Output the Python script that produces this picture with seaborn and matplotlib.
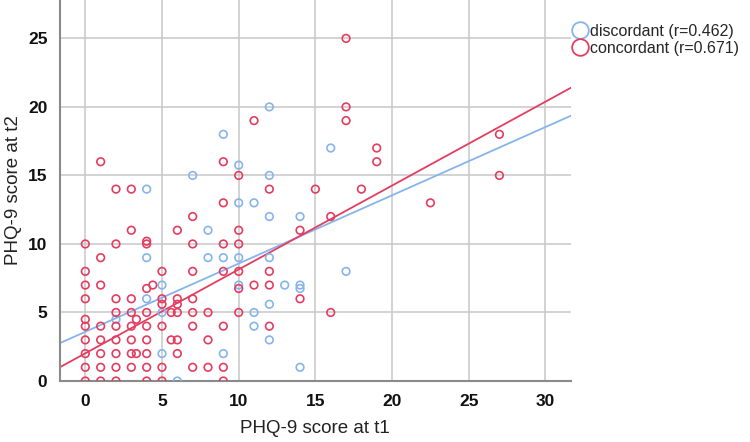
import numpy as np
import pandas as pd
import matplotlib
matplotlib.use("Agg")
import matplotlib.pyplot as plt
from matplotlib.lines import Line2D
import seaborn as sns

# discordant group (blue)
disc_t1 = [14, 5, 9, 6, 12, 2, 11, 5, 11, 4, 12, 5, 10, 13, 14, 14, 17, 4, 8, 9,
           10, 12, 8, 10, 11, 12, 14, 4, 7, 12, 10, 16, 9, 12]
disc_t2 = [1, 2, 2, 0, 3, 4.5, 4, 5, 5, 6, 5.6, 7, 7, 7, 7, 6.75, 8, 9, 9, 9,
           9, 9, 11, 13, 13, 12, 12, 14, 15, 15, 15.75, 17, 18, 20]

# concordant group (red)
conc_t1 = [0, 1, 2, 4, 5, 9,
           0, 1, 2, 3, 4, 5, 7, 8, 9,
           0, 1, 2, 3, 3.33, 4, 6,
           0, 1, 2, 3, 4, 5.6, 6, 8,
           0, 1, 2, 3, 4, 5, 7, 9, 12,
           0, 3.33,
           2, 3, 4, 5.6, 6, 7, 8, 10, 16,
           5, 6,
           0, 2, 3, 5, 6, 7, 14,
           4, 10,
           0, 1, 4.4, 11, 12,
           0, 5, 7, 9, 10, 12,
           1,
           0, 2, 4, 4, 7, 9, 10,
           3, 6, 10, 14,
           7, 16,
           9, 22.5,
           2, 3, 12, 15, 18,
           10, 27,
           1, 9, 19,
           19, 27, 11, 17, 17, 17]
conc_t2 = [0] * 6 + [1] * 9 + [2] * 7 + [3] * 8 + [4] * 9 + [4.5] * 2 + [5] * 9 + \
          [5.6] * 2 + [6] * 7 + [6.75] * 2 + [7] * 5 + [8] * 6 + [9] + \
          [10, 10, 10, 10.2, 10, 10, 10] + [11] * 4 + [12] * 2 + [13] * 2 + \
          [14] * 5 + [15] * 2 + [16] * 3 + [17, 18, 19, 19, 20, 25]

groups = ["discordant (r=0.462)", "concordant (r=0.671)"]
colors = ["#86B4EC", "#E43D60"]
# fitted lines (intercept, slope)
fit_intercept = [3.59, 2.02]
fit_slope = [0.498, 0.612]

df = pd.DataFrame({
    "t1": disc_t1 + conc_t1,
    "t2": disc_t2 + conc_t2,
    "group": [groups[0]] * len(disc_t1) + [groups[1]] * len(conc_t1),
})

sns.set_theme(style="whitegrid")
plt.rcParams["font.family"] = ["Liberation Sans", "DejaVu Sans"]

fig = plt.figure(figsize=(7.5, 4.42), dpi=100)
ax = fig.add_axes([0.08, 0.138, 0.681, 0.862])

xlim = (-1.65, 31.65)
ylim = (0, 27.8)

sns.scatterplot(data=df, x="t1", y="t2", hue="group", hue_order=groups,
                palette=colors, s=30, linewidth=1.2, legend=False, ax=ax, zorder=3)
for coll in ax.collections:
    fc = coll.get_facecolors()
    coll.set_edgecolors(fc)
    coll.set_facecolors("none")

xs = np.array(xlim)
for a, b, c in zip(fit_intercept, fit_slope, colors):
    ax.plot(xs, a + b * xs, color=c, lw=1.3, zorder=2)

ax.set_xlim(*xlim)
ax.set_ylim(*ylim)
ax.set_xticks(range(0, 31, 5))
ax.set_yticks(range(0, 26, 5))
ax.grid(True, color="#c8c8c8", lw=1.1)
ax.set_axisbelow(True)
for side in ["top", "right"]:
    ax.spines[side].set_visible(False)
for side in ["left", "bottom"]:
    ax.spines[side].set_color("#8a8a8a")
    ax.spines[side].set_linewidth(1.5)
ax.tick_params(length=0, labelsize=12.5, colors="#111111", pad=9)
for lab in ax.get_xticklabels() + ax.get_yticklabels():
    lab.set_fontweight("bold")

ax.set_xlabel("PHQ-9 score at t1", fontsize=13.5, color="#222222", labelpad=8)
ax.set_ylabel("PHQ-9 score at t2", fontsize=13.5, color="#222222", labelpad=4)

handles = [Line2D([], [], ls="none", marker="o", markersize=12, mfc="none",
                  mec=c, mew=1.3) for c in colors]
fig.legend(handles, groups, loc="upper left", bbox_to_anchor=(0.752, 0.96),
           frameon=False, fontsize=11.5, handletextpad=0.05, labelspacing=0.1,
           borderaxespad=0, handlelength=1.2)

fig.savefig("out.png", dpi=100, facecolor="white")
